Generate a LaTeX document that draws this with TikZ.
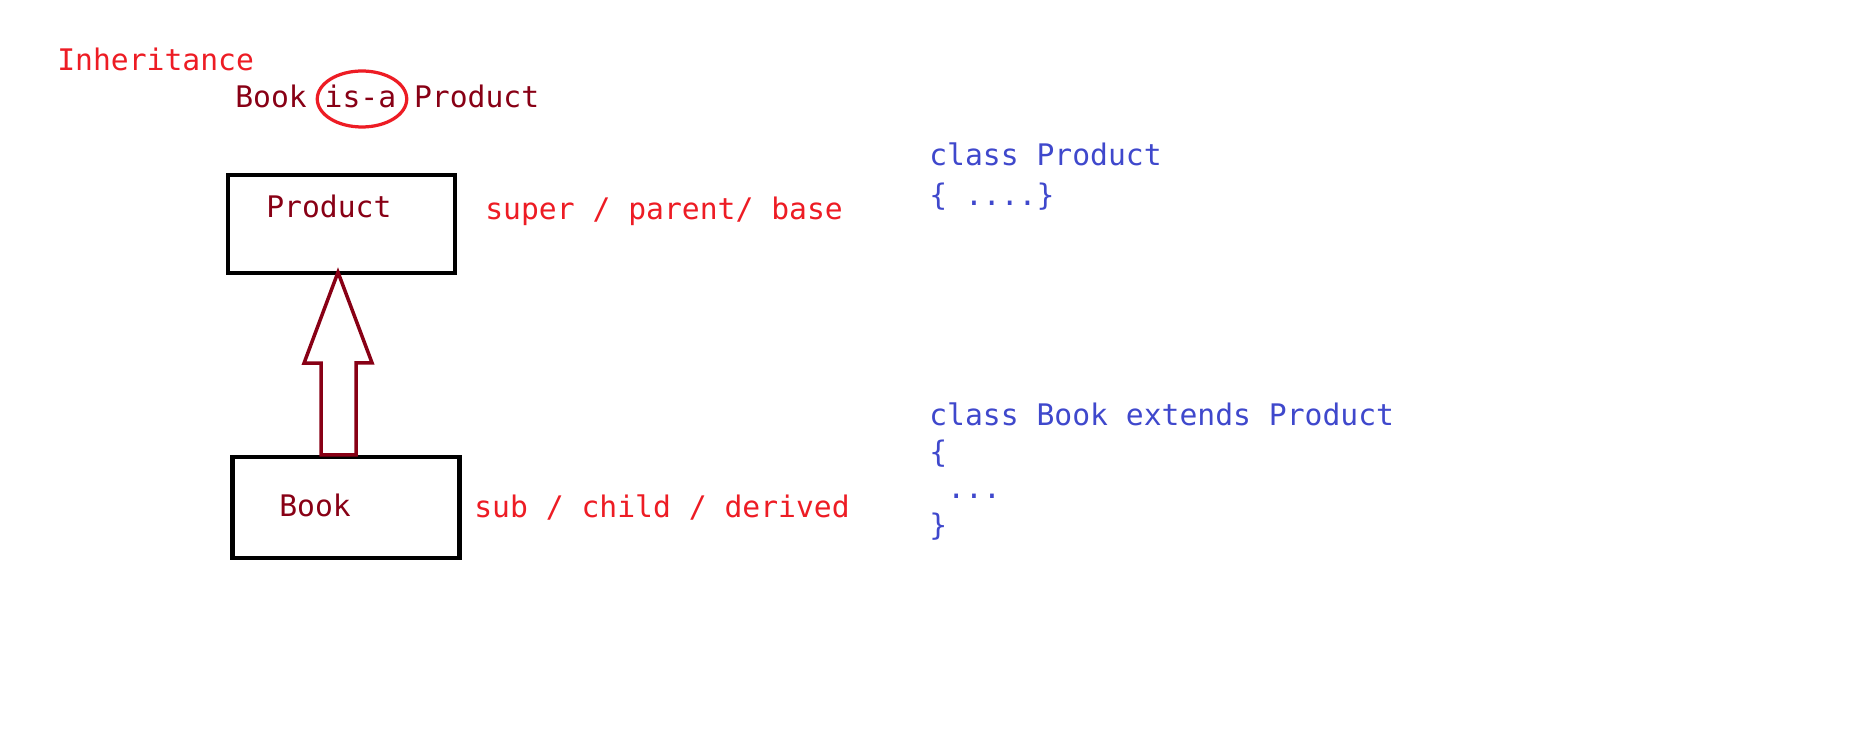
\documentclass[tikz,border=0pt]{standalone}
\usepackage{fontspec}
\setmonofont{DejaVu Sans Mono}
\usetikzlibrary{shapes.geometric,calc}
\definecolor{lightred}{HTML}{ED1C24}
\definecolor{darkred}{HTML}{880015}
\definecolor{codeblue}{HTML}{3F48CC}
\tikzset{
word/.style={anchor=base west, inner sep=0, font=\ttfamily\fontsize{16.9}{20}\selectfont},
remark/.style={word, text=lightred},
classname/.style={word, text=darkred},
codeline/.style={word, text=codeblue},
classbox/.style={draw, line width=0.09cm, minimum width=4.54cm},
isaring/.style={draw=lightred, line width=0.065cm, ellipse, minimum width=1.79cm, minimum height=1.12cm, inner sep=0},
isaarrow/.style={draw=darkred, line width=0.07cm}
}

\begin{document}
\begin{tikzpicture}[x=0.02cm, y=-0.02cm]
\useasboundingbox (0,0) rectangle (1850,743);
\node[remark] (inherit) at (57,71) {Inheritance};
\node[classname] (isasentence) at (235,108) {Book is-a Product};
\node[isaring] (isa) at (362,99) {};
\node[classbox, minimum height=1.96cm] (product) at (341.5,224) {};
\node[classbox, minimum height=2.02cm] (book) at (346,507.5) {};
\node[classname] (productname) at (266,218) {Product};
\node[classname] (bookname) at (279,516) {Book};
\node[remark] (super) at (485,220) {super / parent/ base};
\node[remark] (sub) at (474,517) {sub / child / derived};
\node[codeline] (prod1) at (929,166) {class Product};
\node[codeline] (prod2) at (929,206) {\{ ....\}};
\node[codeline] (book1) at (929,425) {class Book extends Product};
\node[codeline] (book2) at (929,462) {\{};
\node[codeline] (book3) at (947,498) {...};
\node[codeline] (book4) at (929,535) {\}};
\coordinate (tip) at ($(product.south)+(-3.5,-3)$);
\coordinate (tail) at ($(book.north)+(-7,0)$);
\draw[isaarrow] (tip) -- ++(-34,91) -- ++(17,0) |- ($(tail)+(17,0)$) |- ++(16,-92) -- cycle;
\end{tikzpicture}
\end{document}
